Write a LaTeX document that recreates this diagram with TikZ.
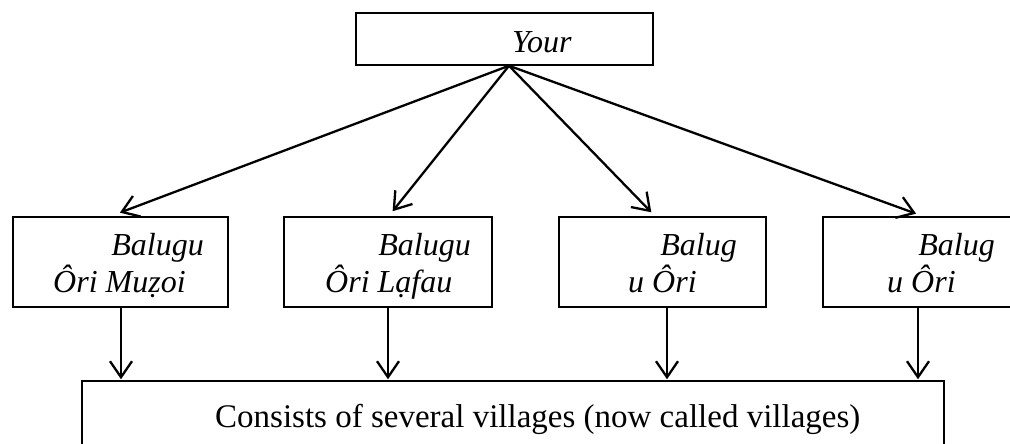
\documentclass[tikz,border=0pt]{standalone}
\usepackage{fontspec}
\setmainfont{Liberation Serif}
\usetikzlibrary{arrows.meta}
\tikzset{
  box/.style={draw, line width=1.5pt, inner sep=0pt, rectangle},
  lbl/.style={inner sep=0pt, font=\fontsize{32}{38}\selectfont\itshape},
  blbl/.style={inner sep=0pt, font=\fontsize{33}{38}\selectfont},
  arr/.style={line width=2.3pt, shorten >=1pt, -{Straight Barb[length=16pt,width=22pt,line width=2.3pt]}}
}
\begin{document}
\begin{tikzpicture}[x=1pt,y=-1pt]
\useasboundingbox (0,0) rectangle (1010,444);
% boxes
\node[box, minimum width=297pt, minimum height=52pt] (top) at (504.5,39) {};
\node[box, minimum width=215pt, minimum height=90pt] (b1) at (120.5,262) {};
\node[box, minimum width=208pt, minimum height=90pt] (b2) at (388,262) {};
\node[box, minimum width=207pt, minimum height=90pt] (b3) at (662.5,262) {};
\node[box, minimum width=197pt, minimum height=90pt] (b4) at (921.5,262) {};
\node[box, minimum width=862pt, minimum height=78pt] (bot) at (513,420) {};
% texts
\node[lbl, anchor=base west] (ty) at (512,53) {Your};
\node[lbl, anchor=base east] (t1a) at (204,255) {Balugu};
\node[lbl, anchor=base west] (t1b) at (53,292) {Ôri Mu\d{z}oi};
\node[lbl, anchor=base east] (t2a) at (471,255) {Balugu};
\node[lbl, anchor=base west] (t2b) at (325,292) {Ôri L\d{a}fau};
\node[lbl, anchor=base east] (t3a) at (737,255) {Balug};
\node[lbl, anchor=base west] (t3b) at (628,292) {u Ôri};
\node[lbl, anchor=base east] (t4a) at (995,255) {Balug};
\node[lbl, anchor=base west] (t4b) at (887,292) {u Ôri};
\node[blbl, anchor=base west] (tb) at (215,427) {Consists of several villages (now called villages)};
% connector points
\coordinate (apex) at (top.south -| 509,0);
\coordinate (e1) at (119,213);
\coordinate (e2) at (392,212);
\coordinate (e3) at (652,213);
\coordinate (e4) at (917,214);
\coordinate (s1) at (b1.south -| 121,0);
\coordinate (s2) at (b2.south -| 388,0);
\coordinate (s3) at (b3.south -| 667,0);
\coordinate (s4) at (b4.south -| 918,0);
\coordinate (d1) at (bot.north -| 121,0);
\coordinate (d2) at (bot.north -| 388,0);
\coordinate (d3) at (bot.north -| 667,0);
\coordinate (d4) at (bot.north -| 918,0);
% arrows
\draw[arr] (apex) -- (e1);
\draw[arr] (apex) -- (e2);
\draw[arr] (apex) -- (e3);
\draw[arr] (apex) -- (e4);
\draw[arr] (s1) -- (d1);
\draw[arr] (s2) -- (d2);
\draw[arr] (s3) -- (d3);
\draw[arr] (s4) -- (d4);
\end{tikzpicture}
\end{document}
